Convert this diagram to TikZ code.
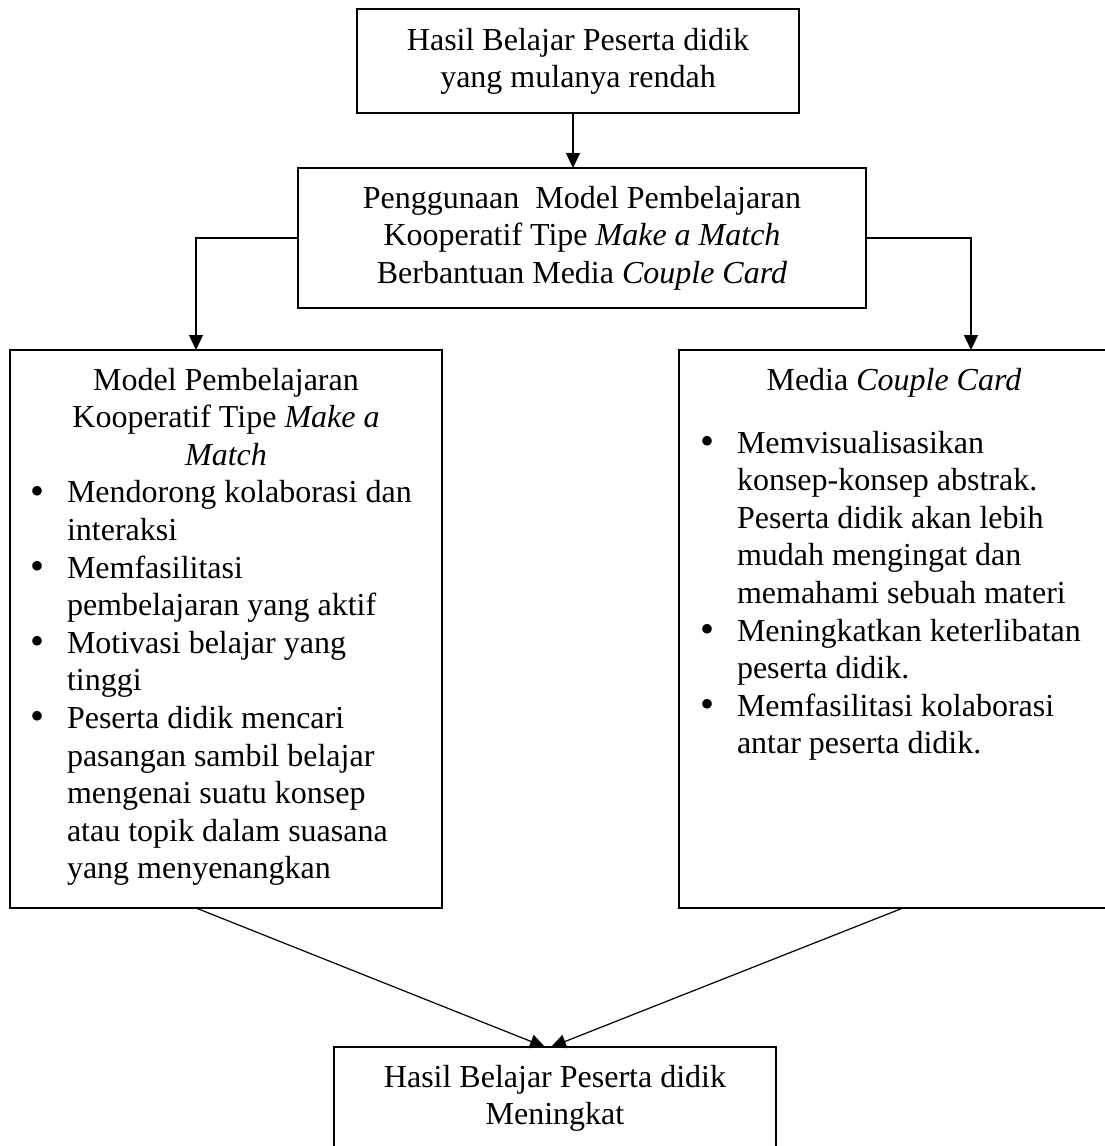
\documentclass[tikz,border=0pt]{standalone}
\usepackage{fontspec}
\setmainfont{Liberation Serif}
\usetikzlibrary{arrows.meta}
\newcommand{\bulitem}{\makebox[37pt][l]{\raisebox{-1.5pt}{\fontsize{40}{40}\selectfont\textbullet}}}
\begin{document}
\begin{tikzpicture}[x=1pt,y=-1pt,
  box/.style={draw=black, line width=1.3pt, inner sep=0pt, outer sep=0pt, anchor=north west},
  txt/.style={inner sep=0pt, outer sep=0pt, anchor=base, font=\fontsize{32}{37.6}\selectfont},
  ltxt/.style={txt, anchor=base west},
  arr/.style={line width=1.2pt, -{Triangle[length=15pt,width=14pt]}}]
\useasboundingbox (0,0) rectangle (1105,1146);
\fill[white] (0,0) rectangle (1105,1146);
% boxes
\node[box, minimum width=442pt, minimum height=104pt] (T) at (357,9) {};
\node[box, minimum width=568pt, minimum height=140pt] (S) at (298,168) {};
\node[box, minimum width=432pt, minimum height=558pt] (L) at (10,350) {};
\node[box, minimum width=432pt, minimum height=558pt] (R) at (679,350) {};
\node[box, minimum width=442pt, minimum height=112pt] (B) at (334,1047) {};
% texts
\node[txt] (tT) at (578,50) {\begin{minipage}[t]{440pt}\centering Hasil Belajar Peserta didik\\ yang mulanya rendah\end{minipage}};
\node[txt] (tS) at (582,208) {\begin{minipage}[t]{560pt}\centering Penggunaan\ \ Model Pembelajaran\\ Kooperatif Tipe \textit{Make a Match}\\ Berbantuan Media \textit{Couple Card}\end{minipage}};
\node[txt] (tB) at (555,1087) {\begin{minipage}[t]{440pt}\centering Hasil Belajar Peserta didik\\ Meningkat\end{minipage}};
\node[txt] (tL) at (226,390) {\begin{minipage}[t]{420pt}\centering Model Pembelajaran\\ Kooperatif Tipe \textit{Make a}\\ \textit{Match}\end{minipage}};
\node[ltxt] (lL) at (30,502.8) {\begin{minipage}[t]{405pt}\raggedright
\bulitem Mendorong kolaborasi dan\\
\hspace*{37pt}interaksi\\
\bulitem Memfasilitasi\\
\hspace*{37pt}pembelajaran yang aktif\\
\bulitem Motivasi belajar yang\\
\hspace*{37pt}tinggi\\
\bulitem Peserta didik mencari\\
\hspace*{37pt}pasangan sambil belajar\\
\hspace*{37pt}mengenai suatu konsep\\
\hspace*{37pt}atau topik dalam suasana\\
\hspace*{37pt}yang menyenangkan\end{minipage}};
\node[txt] (tR) at (894,390) {Media \textit{Couple Card}};
\node[ltxt] (lR) at (700,453) {\begin{minipage}[t]{405pt}\raggedright
\bulitem Memvisualisasikan\\
\hspace*{37pt}konsep-konsep abstrak.\\
\hspace*{37pt}Peserta didik akan lebih\\
\hspace*{37pt}mudah mengingat dan\\
\hspace*{37pt}memahami sebuah materi\\
\bulitem Meningkatkan keterlibatan\\
\hspace*{37pt}peserta didik.\\
\bulitem Memfasilitasi kolaborasi\\
\hspace*{37pt}antar peserta didik.\end{minipage}};
% connectors
\coordinate (la) at (196,350);
\coordinate (ra) at (971,350);
\draw[arr] ([xshift=-5pt]T.south) -- ([xshift=-5pt]T.south |- S.north);
\draw[arr] (S.west) -| (la);
\draw[arr] (S.east) -| (ra);
\draw[arr] ([xshift=-30pt]L.south) -- ([xshift=-10pt]B.north);
\draw[arr] ([xshift=8pt]R.south) -- ([xshift=-4pt]B.north);
\end{tikzpicture}
\end{document}
